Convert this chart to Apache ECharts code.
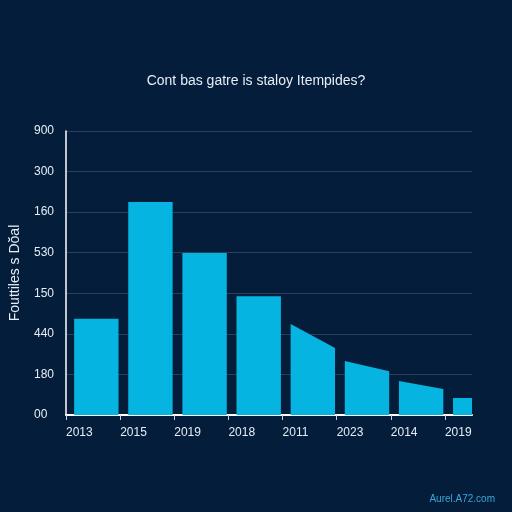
<!DOCTYPE html>
<html>
<head>
<meta charset="utf-8">
<script src="https://cdn.jsdelivr.net/npm/echarts@6/dist/echarts.min.js"></script>
<style>
  html, body {margin: 0; padding: 0; background: #041d3b;}
  #main {width: 512px; height: 512px;}
</style>
</head>
<body>
<div id="main"></div>
<script>
// categories (x axis) and tick labels (y axis), as printed on the picture
var years = ['2013', '2015', '2019', '2018', '2011', '2023', '2014', '2019'];
var yTickLabels = ['00', '180', '440', '150', '530', '160', '300', '900'];
// bar top heights in grid steps, left edge and right edge (some tops slope)
var leftTops = [2.37, 5.25, 3.99, 2.93, 2.24, 1.33, 0.84, 0.42];
var rightTops = [2.37, 5.25, 3.99, 2.93, 1.65, 1.08, 0.64, 0.42];

var barData = years.map(function (y, i) {
    return [i, leftTops[i], rightTops[i]];
});

var myChart = echarts.init(document.getElementById('main'));
var option = {
    backgroundColor: '#041d3b',
    animation: false,
    title: [
        {
            text: 'Cont bas gatre is staloy Itempides?',
            left: 'center',
            top: 69,
            textStyle: {color: '#e6edf5', fontSize: 14, fontWeight: 'normal', fontFamily: 'Liberation Sans'}
        },
        {
            text: 'Aurel.A72.com',
            right: 12,
            top: 489,
            textStyle: {color: '#3aa6d8', fontSize: 10, fontWeight: 'normal', fontFamily: 'Liberation Sans'}
        }
    ],
    grid: {left: 64, right: 40, top: 131, bottom: 97},
    xAxis: {
        type: 'value',
        min: 0,
        max: 7.5,
        interval: 1,
        axisLine: {show: true, lineStyle: {color: '#ffffff', width: 2}},
        axisTick: {show: true, length: 5, lineStyle: {color: '#c8d2de'}},
        splitLine: {show: false},
        axisLabel: {
            color: '#e6edf5',
            fontSize: 12,
            fontFamily: 'Liberation Sans',
            align: 'left',
            margin: 12,
            showMaxLabel: false,
            formatter: function (v) {
                return years[Math.round(v)] || '';
            }
        }
    },
    yAxis: {
        type: 'value',
        min: 0,
        max: 7,
        interval: 1,
        name: 'Fouttiles s Dŏal',
        nameLocation: 'middle',
        nameGap: 44,
        nameTextStyle: {color: '#e6edf5', fontSize: 14, fontFamily: 'Liberation Sans'},
        axisLine: {show: true, lineStyle: {color: '#ffffff', width: 1.5}},
        axisTick: {show: false},
        splitLine: {lineStyle: {color: '#2a3f5c', width: 1}},
        axisLabel: {
            color: '#e6edf5',
            fontSize: 12,
            fontFamily: 'Liberation Sans',
            margin: 32,
            align: 'left',
            formatter: function (v) {
                return yTickLabels[Math.round(v)];
            }
        }
    },
    series: [
        {
            type: 'custom',
            clip: true,
            data: barData,
            renderItem: function (params, api) {
                var i = api.value(0);
                var x0 = i + 0.15, x1 = i + 0.97;
                var bl = api.coord([x0, 0]);
                var tl = api.coord([x0, api.value(1)]);
                var tr = api.coord([x1, api.value(2)]);
                var br = api.coord([x1, 0]);
                return {
                    type: 'polygon',
                    shape: {points: [bl, tl, tr, br]},
                    style: {fill: '#06b4e2'}
                };
            }
        }
    ]
};
myChart.setOption(option);
</script>
</body>
</html>
